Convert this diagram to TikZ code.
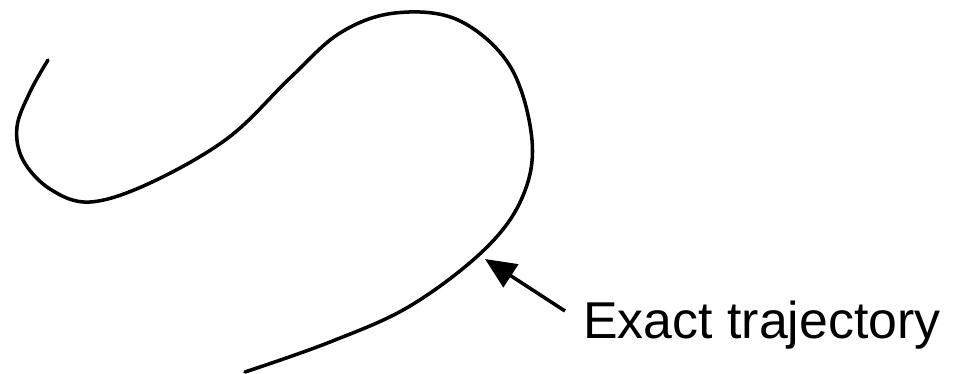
\documentclass[tikz,border=0pt]{standalone}
\usepackage{fontspec}
\setmainfont{Liberation Sans}
\usepackage{tikz}
\usetikzlibrary{arrows.meta, positioning}
\tikzset{
  path/.style={line width=2pt, line cap=round, black},
  arr/.style={-{Triangle[length=6.2mm, width=5.4mm]}, line width=2pt, black},
  lbl/.style={font=\fontsize{29.5}{34}\selectfont, inner sep=0pt, anchor=base west},
}
\begin{document}
\begin{tikzpicture}[x=0.02cm, y=-0.02cm]
\useasboundingbox (0,0) rectangle (958,373);
% ---- exact trajectory curve ----
\draw[path] plot[smooth, tension=0.6] coordinates {
  (48,60) (30,92) (17,127) (23,160) (50,189) (90,202) (150,183) (228,138)
  (290,78) (340,33) (395,13) (458,20) (510,66) (532,140) (522,198)
  (484,250) (410,306) (330,342) (245,372)};
% ---- label + arrow ----
\node[lbl] (label) at (583,338) {Exact trajectory};
\coordinate (tail) at (565,311);
\coordinate (tip) at (485,259);
\draw[arr] (tail) -- (tip);
\end{tikzpicture}
\end{document}
